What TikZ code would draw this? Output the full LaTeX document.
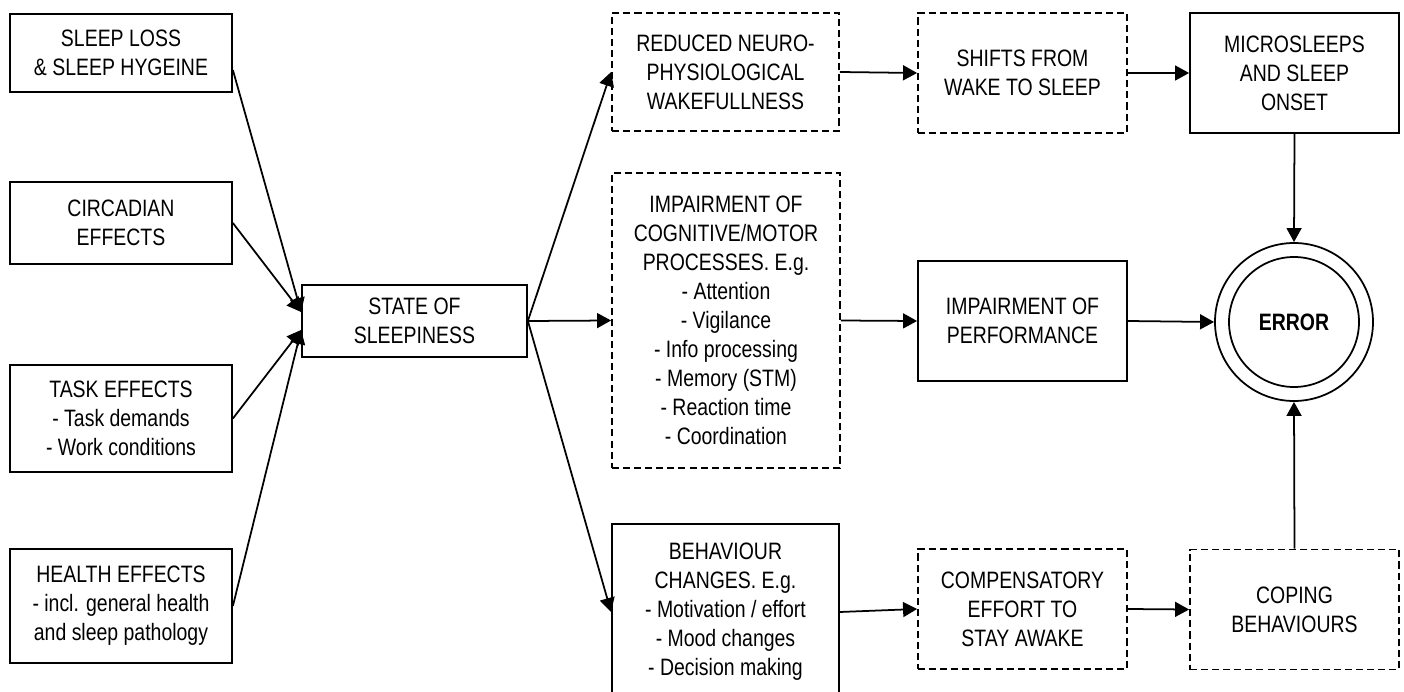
\documentclass[tikz,border=0pt]{standalone}
\usepackage{fontspec}
\setmainfont{Liberation Sans}[FakeStretch=0.82]
\usetikzlibrary{arrows.meta}
\begin{document}
\begin{tikzpicture}[
	every node/.style={font=\fontsize{13.5}{16.5}\selectfont, align=center, inner sep=0pt},
	box/.style={draw, line width=1pt},
	dbox/.style={box, dash pattern=on 4pt off 2.3pt},
	link/.style={line width=1pt, -{Triangle[length=8pt, width=8.5pt]}}
]
	\useasboundingbox (0, 0) rectangle (28.08, 13.82);
	\clip (0, 0) rectangle (28.08, 13.82);
	\node[box, minimum width=4.44cm, minimum height=1.56cm] at (2.42, 12.76) (loss) {SLEEP LOSS\\\& SLEEP HYGEINE};
	\node[box, minimum width=4.44cm, minimum height=1.64cm] at (2.42, 9.36) (circ) {CIRCADIAN\\EFFECTS};
	\node[box, minimum width=4.44cm, minimum height=2.14cm] at (2.42, 5.45) (task) {TASK EFFECTS\\- Task demands\\- Work conditions};
	\node[box, minimum width=4.44cm, minimum height=2.28cm] at (2.42, 1.70) (health) {HEALTH EFFECTS\\- incl. general health\\and sleep pathology};
	\node[box, minimum width=4.5cm, minimum height=1.44cm] at (8.29, 7.40) (state) {STATE OF\\SLEEPINESS};
	\node[dbox, minimum width=4.54cm, minimum height=2.36cm] at (14.51, 12.38) (reduced) {REDUCED NEURO-\\PHYSIOLOGICAL\\WAKEFULLNESS};
	\node[dbox, minimum width=4.56cm, minimum height=5.9cm] at (14.52, 7.41) (cog) {IMPAIRMENT OF\\COGNITIVE/MOTOR\\PROCESSES. E.g.\\- Attention\\- Vigilance\\- Info processing\\- Memory (STM)\\- Reaction time\\- Coordination};
	\node[box, minimum width=4.54cm, minimum height=3.52cm] at (14.51, 1.58) (behav) {BEHAVIOUR\\CHANGES. E.g.\\- Motivation / effort\\- Mood changes\\- Decision making};
	\node[dbox, minimum width=4.18cm, minimum height=2.4cm] at (20.45, 12.36) (shifts) {SHIFTS FROM\\WAKE TO SLEEP};
	\node[box, minimum width=4.18cm, minimum height=2.4cm] at (20.45, 7.40) (perf) {IMPAIRMENT OF\\PERFORMANCE};
	\node[dbox, minimum width=4.18cm, minimum height=2.4cm] at (20.45, 1.64) (comp) {COMPENSATORY\\EFFORT TO\\STAY AWAKE};
	\node[box, minimum width=4.18cm, minimum height=2.4cm] at (25.89, 12.36) (micro) {MICROSLEEPS\\AND SLEEP\\ONSET};
	\node[dbox, minimum width=4.18cm, minimum height=2.4cm] at (25.89, 1.63) (coping) {COPING\\BEHAVIOURS};
	\node[box, circle, minimum size=3.16cm] at (25.88, 7.38) (errout) {};
	\node[box, circle, minimum size=2.6cm, font=\fontsize{13.5}{16.5}\selectfont\bfseries] at (25.88, 7.38) (err) {ERROR};
	\draw[link] ([yshift=-0.34cm]loss.east) -- ([yshift=0.18cm]state.west);
	\draw[link] (circ.east) -- ([yshift=0.18cm]state.west);
	\draw[link] (task.east) -- ([yshift=-0.18cm]state.west);
	\draw[link] (health.east) -- ([yshift=-0.18cm]state.west);
	\draw[link] (state.east) -- (reduced.west);
	\draw[link] (state.east) -- (cog.west);
	\draw[link] (state.east) -- (behav.west);
	\draw[link] (reduced.east) -- (shifts.west);
	\draw[link] (shifts.east) -- (micro.west);
	\draw[link] (cog.east) -- (perf.west);
	\draw[link] (behav.east) -- (comp.west);
	\draw[link] (comp.east) -- (coping.west);
	\draw[link] (micro.south) -- (errout.north);
	\draw[link] (perf.east) -- (errout.west);
	\draw[link] (coping.north) -- (errout.south);
\end{tikzpicture}
\end{document}
